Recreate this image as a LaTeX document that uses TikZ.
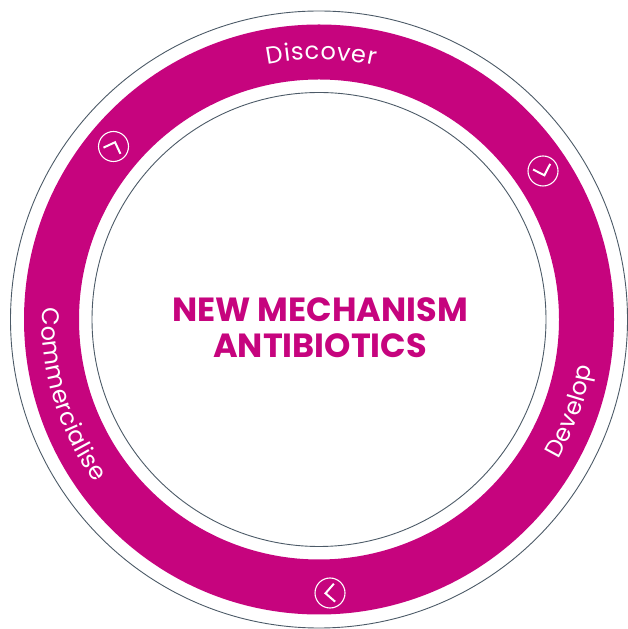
\documentclass[tikz,border=0pt]{standalone}
\usepackage{fontspec}
\setmainfont{Poppins}
\usetikzlibrary{decorations.text,calc}
\definecolor{ringpink}{RGB}{198,4,126}
\definecolor{rimgrey}{RGB}{76,90,103}

\begin{document}
\begin{tikzpicture}[x=1pt,y=1pt,
  rim/.style={draw=rimgrey, line width=0.9pt},
  icon/.style={circle, draw=white, line width=1.1pt, minimum size=30pt, inner sep=0pt},
  chev/.style={white, line width=2pt, line cap=butt, line join=miter},
  title/.style={text=ringpink, font=\fontsize{33.5}{40}\selectfont\bfseries, anchor=base},
  stagetext/.style={decorate, decoration={text along path, text align=fit to path, text color=white, text={|\fontsize{24}{24}\selectfont|#1}}}]
\useasboundingbox (0,0) rectangle (628,629);
\coordinate (O) at (319,309.5);

% thin rims and the coloured band
\draw[rim] (O) circle[radius=308.5];
\fill[ringpink, even odd rule] (O) circle[radius=295] (O) circle[radius=240];
\draw[rim] (O) circle[radius=227];

% stage names along the band
\path[stagetext=Discover] ($(O)+(101.4:260)$) arc[start angle=101.4, end angle=77.6, radius=260];
\path[stagetext=Develop] ($(O)+(-30.3:277)$) arc[start angle=-30.3, end angle=-9.7, radius=277];
\path[stagetext=Commercialise] ($(O)+(177.5:277)$) arc[start angle=177.5, end angle=216.1, radius=277];

% direction markers
\node[icon] (i1) at (113.5,482.5) {};
\node[icon] (i2) at (543,458) {};
\node[icon] (i3) at (330,36) {};
\begin{scope}[shift={(i1.center)}, rotate=70]
  \draw[chev] (-4.5,9) -- (4.5,0) -- (-4.5,-9);
\end{scope}
\begin{scope}[shift={(i2.center)}, rotate=288]
  \draw[chev] (-4.5,9) -- (4.5,0) -- (-4.5,-9);
\end{scope}
\begin{scope}[shift={(i3.center)}, rotate=184]
  \draw[chev] (-4.5,9) -- (4.5,0) -- (-4.5,-9);
\end{scope}

% centre title
\node[title] (t1) at (320,307) {NEW MECHANISM};
\node[title] (t2) at (320,271) {ANTIBIOTICS};
\end{tikzpicture}
\end{document}
